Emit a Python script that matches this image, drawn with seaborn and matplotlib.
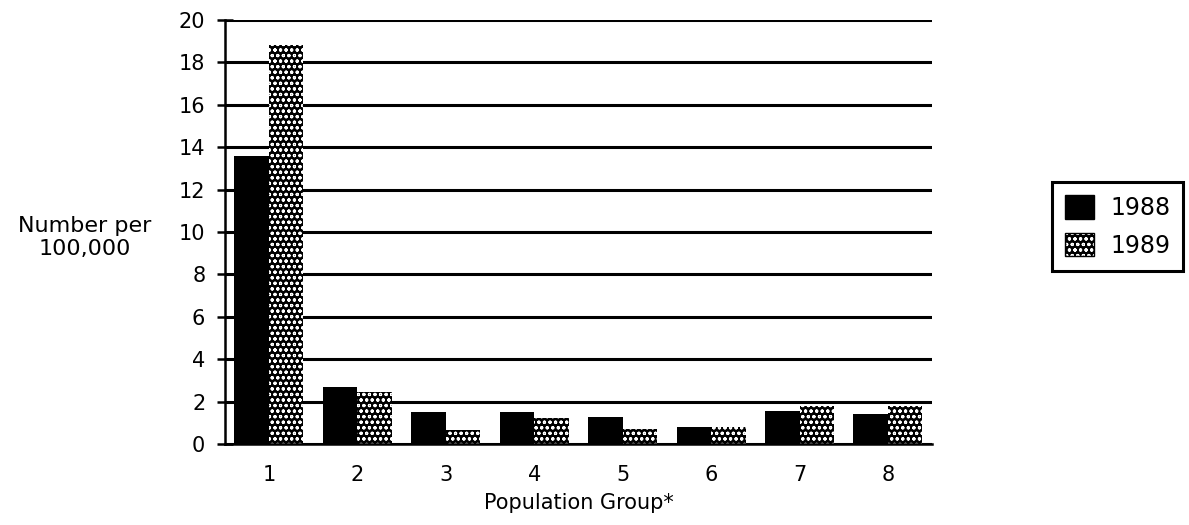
import matplotlib
matplotlib.use("Agg")
import matplotlib.pyplot as plt
from matplotlib.patches import Patch
from matplotlib.colors import to_rgba
import pandas as pd
import seaborn as sns

groups = ["1", "2", "3", "4", "5", "6", "7", "8"]
rate_1988 = [13.6, 2.7, 1.5, 1.5, 1.3, 0.8, 1.55, 1.4]
rate_1989 = [18.8, 2.45, 0.65, 1.25, 0.7, 0.8, 1.8, 1.8]
years = ["1988", "1989"]
y_ticks = list(range(0, 21, 2))

DOTS = "ooo"


def white_dots(patch):
    # black face, white stipple, keep the black outline
    patch.set_hatch(DOTS)
    patch._hatch_color = to_rgba("white")


def main():
    df = pd.DataFrame({
        "group": groups * 2,
        "rate": rate_1988 + rate_1989,
        "year": [years[0]] * len(groups) + [years[1]] * len(groups),
    })

    sns.set_style("white")
    plt.rcParams["font.family"] = ["DejaVu Sans"]
    plt.rcParams["hatch.linewidth"] = 0.8
    for k in ["text.color", "axes.labelcolor", "xtick.color", "ytick.color"]:
        plt.rcParams[k] = "black"

    fig = plt.figure(figsize=(11.89, 5.25), dpi=100)
    ax = fig.add_axes([0.189, 0.154, 0.595, 0.808])

    sns.barplot(data=df, x="group", y="rate", hue="year", palette=["black", "black"],
                width=0.78, saturation=1, legend=False, ax=ax, linewidth=0)

    for p in ax.containers[1]:
        white_dots(p)

    ax.set_ylim(0, 20)
    ax.set_xlim(-0.5, 7.5)
    ax.set_yticks(y_ticks)
    ax.yaxis.grid(True, color="black", lw=2.2)
    ax.set_axisbelow(True)

    for s in ["top", "right"]:
        ax.spines[s].set_visible(False)
    for s in ["left", "bottom"]:
        ax.spines[s].set_color("black")
        ax.spines[s].set_linewidth(1.8)

    ax.set_xticks([i + 0.5 for i in range(len(groups) - 1)], minor=True)
    ax.tick_params(axis="x", which="major", length=0, pad=15, labelsize=15)
    ax.tick_params(axis="x", which="minor", direction="inout", length=12, width=1.8, color="black")
    ax.tick_params(axis="y", direction="inout", length=12, width=1.8, color="black",
                   labelsize=15, pad=8, left=True)

    ax.set_ylabel("")
    ax.set_xlabel("Population Group*", fontsize=15, labelpad=6)
    fig.text(0.071, 0.547, "Number per\n100,000", ha="center", va="center", fontsize=16,
             linespacing=1.2)

    handles = [
        Patch(facecolor="black", edgecolor="black", label=years[0]),
        Patch(facecolor="black", edgecolor="black", label=years[1]),
    ]
    leg = fig.legend(handles=handles, loc="upper left", bbox_to_anchor=(0.885, 0.653),
                     fontsize=17, frameon=True, fancybox=False, framealpha=1,
                     handlelength=1.2, handleheight=1.15, borderpad=0.55, borderaxespad=0,
                     labelspacing=0.55, handletextpad=0.7)
    white_dots(leg.legend_handles[1])
    leg.get_frame().set_edgecolor("black")
    leg.get_frame().set_linewidth(2.2)

    fig.savefig("out.png", dpi=100)


if __name__ == "__main__":
    main()
